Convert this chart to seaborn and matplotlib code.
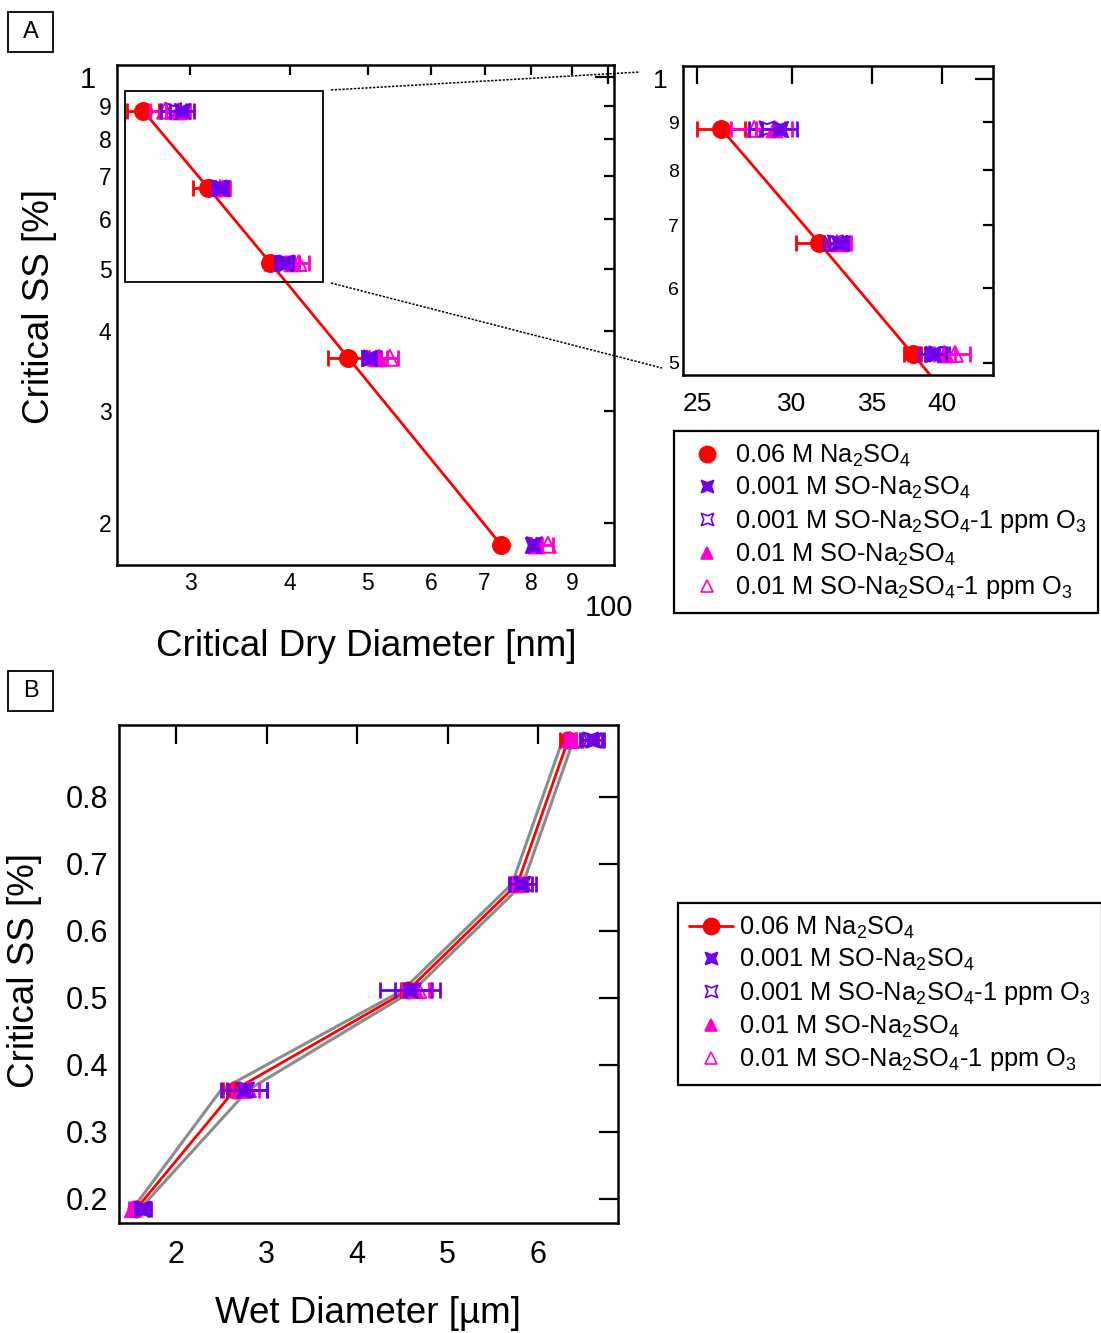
import numpy as np
import pandas as pd
import seaborn as sns
import matplotlib
matplotlib.use('Agg')
import matplotlib.pyplot as plt
from matplotlib.path import Path
from matplotlib.lines import Line2D
from matplotlib.patches import Rectangle
from matplotlib.ticker import FixedLocator, FixedFormatter, NullFormatter

# ---- data ----
# critical supersaturation levels [%] (same for every sample)
ss = [0.885, 0.670, 0.511, 0.363, 0.185]

series = ['na2so4', 'so001', 'so001_o3', 'so01', 'so01_o3']
labels = [r'0.06 M Na$_2$SO$_4$',
          r'0.001 M SO-Na$_2$SO$_4$',
          r'0.001 M SO-Na$_2$SO$_4$-1 ppm O$_3$',
          r'0.01 M SO-Na$_2$SO$_4$',
          r'0.01 M SO-Na$_2$SO$_4$-1 ppm O$_3$']

# panel A: critical dry diameter [nm]
dry_na2so4 = [26.2, 31.6, 37.8, 47.3, 73.4]
dry_na2so4_err = [1.2, 1.4, 0.6, 2.7, 0.5]
dry_so001 = [29.3, 32.8, 39.3, 50.2, 80.5]
dry_so001_err = [1.0, 0.6, 1.0, 1.0, 1.0]
dry_so001_o3 = [28.6, 32.6, 39.6, 50.6, 80.8]
dry_so001_o3_err = [1.0, 0.7, 0.9, 1.2, 1.0]
dry_so01 = [29.0, 32.9, 40.2, 51.5, 81.2]
dry_so01_err = [1.0, 0.7, 0.8, 1.3, 1.2]
dry_so01_o3 = [27.9, 32.7, 41.0, 53.3, 84.0]
dry_so01_o3_err = [1.2, 0.8, 1.2, 1.3, 1.3]

# panel B: wet diameter [um]
wet_na2so4 = [6.33, 5.77, 4.56, 2.65, 1.56]
wet_na2so4_err = [0.09, 0.06, 0.08, 0.13, 0.03]
wet_so001 = [6.60, 5.81, 4.58, 2.75, 1.62]
wet_so001_err = [0.12, 0.12, 0.33, 0.25, 0.07]
wet_so001_o3 = [6.58, 5.83, 4.62, 2.78, 1.64]
wet_so001_o3_err = [0.12, 0.15, 0.20, 0.22, 0.08]
wet_so01 = [6.36, 5.80, 4.64, 2.72, 1.51]
wet_so01_err = [0.06, 0.08, 0.15, 0.10, 0.03]
wet_so01_o3 = [6.35, 5.79, 4.68, 2.80, 1.53]
wet_so01_o3_err = [0.06, 0.08, 0.15, 0.12, 0.03]

# grey envelope around the Na2SO4 curve in panel B
wet_band_lo = [6.27, 5.71, 4.50, 2.50, 1.52]
wet_band_hi = [6.39, 5.83, 4.62, 2.80, 1.60]

# ticks
a_x_minor = [30, 40, 50, 60, 70, 80, 90]
a_x_minor_lab = ['3', '4', '5', '6', '7', '8', '9']
a_y_minor = [0.2, 0.3, 0.4, 0.5, 0.6, 0.7, 0.8, 0.9]
a_y_minor_lab = ['2', '3', '4', '5', '6', '7', '8', '9']
ins_x = [25, 30, 35, 40]
ins_y_minor = [0.5, 0.6, 0.7, 0.8, 0.9]
ins_y_minor_lab = ['5', '6', '7', '8', '9']

df = pd.DataFrame({
    'series': np.repeat(series, len(ss)),
    'ss': ss * len(series),
    'dry': dry_na2so4 + dry_so001 + dry_so001_o3 + dry_so01 + dry_so01_o3,
    'dry_err': dry_na2so4_err + dry_so001_err + dry_so001_o3_err + dry_so01_err + dry_so01_o3_err,
    'wet': wet_na2so4 + wet_so001 + wet_so001_o3 + wet_so01 + wet_so01_o3,
    'wet_err': wet_na2so4_err + wet_so001_err + wet_so001_o3_err + wet_so01_err + wet_so01_o3_err,
})

# ---- style ----
sns.set_theme(style='white')
plt.rcParams['font.family'] = ['Liberation Sans', 'DejaVu Sans']
plt.rcParams['mathtext.fontset'] = 'custom'
plt.rcParams['mathtext.rm'] = 'Liberation Sans'
plt.rcParams['mathtext.it'] = 'Liberation Sans'
plt.rcParams['mathtext.default'] = 'rm'
plt.rcParams['text.color'] = 'black'
plt.rcParams['axes.labelcolor'] = 'black'
plt.rcParams['xtick.color'] = 'black'
plt.rcParams['ytick.color'] = 'black'

red = '#FF0000'
purple = '#7000E8'
magenta = '#FF00D0'

# four pointed (concave square) marker
k = 0.62
star4 = Path([(-1, 1), (0, k), (1, 1), (k, 0), (1, -1), (0, -k), (-1, -1), (-k, 0), (-1, 1)],
             [Path.MOVETO] + [Path.LINETO] * 7 + [Path.CLOSEPOLY])

look = {
    'na2so4':   dict(color=red, marker='o', filled=True, s=150),
    'so001':    dict(color=purple, marker=star4, filled=True, s=120),
    'so001_o3': dict(color=purple, marker=star4, filled=False, s=120),
    'so01':     dict(color=magenta, marker='^', filled=True, s=130),
    'so01_o3':  dict(color=magenta, marker='^', filled=False, s=130),
}
draw_order = ['na2so4', 'so01_o3', 'so001_o3', 'so01', 'so001']


def draw_points(ax, xcol, ecol, scale=1.0):
    for i, name in enumerate(draw_order):
        d = df[df['series'] == name]
        st = look[name]
        ax.errorbar(d[xcol], d['ss'], xerr=d[ecol], fmt='none', ecolor=st['color'],
                    elinewidth=2.0, capsize=6, capthick=2.0, zorder=3 + i)
        fc = st['color'] if st['filled'] else 'none'
        sns.scatterplot(x=d[xcol].values, y=d['ss'].values, ax=ax, marker=st['marker'],
                        s=st['s'] * scale, color=st['color'], facecolor=fc,
                        edgecolor=st['color'], linewidth=1.4, zorder=3 + i, legend=False)


def frame(ax, lw=1.8):
    for sp in ax.spines.values():
        sp.set_linewidth(lw)
        sp.set_color('black')
        sp.set_visible(True)


fig = plt.figure(figsize=(11.01, 13.33), dpi=100)
W, H = 1101, 1333


def box(l, t, r, b):
    return [l / W, 1 - b / H, (r - l) / W, (b - t) / H]


# ---- panel A ----
axA = fig.add_axes(box(117, 65, 614, 565))
axA.set_xscale('log')
axA.set_yscale('log')
red_df = df[df['series'] == 'na2so4']
sns.lineplot(x=red_df['dry'].values, y=red_df['ss'].values, sort=False, color=red,
             linewidth=2.0, ax=axA, zorder=2)
draw_points(axA, 'dry', 'dry_err')
axA.set_xlim(24.3, 101.6)
axA.set_ylim(0.172, 1.044)
axA.xaxis.set_major_locator(FixedLocator([100]))
axA.xaxis.set_major_formatter(FixedFormatter(['100']))
axA.xaxis.set_minor_locator(FixedLocator(a_x_minor))
axA.xaxis.set_minor_formatter(FixedFormatter(a_x_minor_lab))
axA.yaxis.set_major_locator(FixedLocator([1]))
axA.yaxis.set_major_formatter(FixedFormatter(['1']))
axA.yaxis.set_minor_locator(FixedLocator(a_y_minor))
axA.yaxis.set_minor_formatter(FixedFormatter(a_y_minor_lab))
axA.tick_params(which='both', direction='in', top=True, right=True, width=1.6, colors='black')
axA.tick_params(which='major', length=14, labelsize=21)
axA.tick_params(which='minor', length=7, labelsize=16.5)
axA.tick_params(axis='x', which='major', pad=21)
axA.tick_params(axis='x', which='minor', pad=5)
axA.tick_params(axis='y', which='major', pad=15)
axA.tick_params(axis='y', which='minor', pad=4)
frame(axA)
axA.set_xlabel('Critical Dry Diameter [nm]', fontsize=26.5)
axA.set_ylabel('Critical SS [%]', fontsize=26.5)
axA.xaxis.set_label_coords(0.501, -0.128)
axA.yaxis.set_label_coords(-0.121, 0.516)
axA.add_patch(Rectangle((24.9, 0.477), 44.0 - 24.9, 0.951 - 0.477, fill=False,
                        edgecolor='black', linewidth=1.3, zorder=10))

# ---- inset (zoom) ----
axI = fig.add_axes(box(683, 66, 993, 375))
axI.set_xscale('log')
axI.set_yscale('log')
sns.lineplot(x=red_df['dry'].values, y=red_df['ss'].values, sort=False, color=red,
             linewidth=2.0, ax=axI, zorder=2)
draw_points(axI, 'dry', 'dry_err')
axI.set_xlim(24.34, 44.1)
axI.set_ylim(0.4854, 1.032)
axI.xaxis.set_major_locator(FixedLocator(ins_x))
axI.xaxis.set_major_formatter(FixedFormatter([str(v) for v in ins_x]))
axI.xaxis.set_minor_locator(FixedLocator([]))
axI.xaxis.set_minor_formatter(NullFormatter())
axI.yaxis.set_major_locator(FixedLocator([1]))
axI.yaxis.set_major_formatter(FixedFormatter(['1']))
axI.yaxis.set_minor_locator(FixedLocator(ins_y_minor))
axI.yaxis.set_minor_formatter(FixedFormatter(ins_y_minor_lab))
axI.tick_params(which='both', direction='in', top=True, right=True, width=1.6, colors='black')
axI.tick_params(which='major', length=13, labelsize=19)
axI.tick_params(which='minor', length=7, labelsize=14)
axI.tick_params(axis='x', which='major', pad=12)
axI.tick_params(axis='y', which='major', pad=11)
axI.tick_params(axis='y', which='minor', pad=3)
frame(axI)
axI.set_xlabel('')
axI.set_ylabel('')

# dotted lines joining the zoom box to the inset
for (x0, y0, x1, y1) in [(331, 90, 640, 72), (331, 283, 662, 368)]:
    fig.add_artist(Line2D([x0 / W, x1 / W], [1 - y0 / H, 1 - y1 / H], transform=fig.transFigure,
                          color='black', linewidth=1.1, linestyle=(0, (1.5, 1))))

# ---- panel B ----
axB = fig.add_axes(box(119, 725, 618, 1223))
sns.lineplot(x=wet_band_lo, y=ss, sort=False, color='#8C8C8C', linewidth=2.2, ax=axB, zorder=1)
sns.lineplot(x=wet_band_hi, y=ss, sort=False, color='#8C8C8C', linewidth=2.2, ax=axB, zorder=1)
red_b = df[df['series'] == 'na2so4']
sns.lineplot(x=red_b['wet'].values, y=red_b['ss'].values, sort=False, color=red,
             linewidth=2.0, ax=axB, zorder=2)
draw_points(axB, 'wet', 'wet_err', scale=0.9)
axB.set_xlim(1.37, 6.88)
axB.set_ylim(0.164, 0.907)
axB.set_xticks([2, 3, 4, 5, 6])
axB.set_yticks([0.2, 0.3, 0.4, 0.5, 0.6, 0.7, 0.8])
axB.set_yticklabels(['0.2', '0.3', '0.4', '0.5', '0.6', '0.7', '0.8'])
axB.tick_params(which='both', direction='in', top=True, right=True, width=1.6, length=14,
                labelsize=22, colors='black')
axB.tick_params(axis='x', pad=12)
axB.tick_params(axis='y', pad=8)
frame(axB)
axB.set_xlabel('Wet Diameter [µm]', fontsize=26.5)
axB.set_ylabel('Critical SS [%]', fontsize=26.5)
axB.xaxis.set_label_coords(0.499, -0.146)
axB.yaxis.set_label_coords(-0.154, 0.508)


# ---- legends ----
def handles(with_line):
    hs = []
    for i, name in enumerate(series):
        st = look[name]
        size = np.sqrt(st['s'])
        hs.append(Line2D([], [], color=st['color'], marker=st['marker'],
                         markersize=size * (0.95 if name == 'na2so4' else 0.8),
                         markerfacecolor=st['color'] if st['filled'] else 'none',
                         markeredgecolor=st['color'], markeredgewidth=1.2,
                         linestyle='-' if (with_line and i == 0) else 'none', linewidth=2.0))
    return hs


leg_kw = dict(loc='upper left', frameon=True, fancybox=False, edgecolor='black', fontsize=18.3,
              handlelength=1.7, handletextpad=0.25, borderpad=0.45, labelspacing=0.26,
              borderaxespad=0, framealpha=1)
legA = fig.legend(handles(False), labels, bbox_to_anchor=(674 / W, 1 - 431 / H), **leg_kw)
legA.get_frame().set_linewidth(1.6)
legB = fig.legend(handles(True), labels, bbox_to_anchor=(678 / W, 1 - 903 / H), **leg_kw)
legB.get_frame().set_linewidth(1.6)

# ---- panel letters ----
for letter, top in [('A', 12), ('B', 671)]:
    fig.add_artist(Rectangle((8 / W, 1 - (top + 40) / H), 45 / W, 40 / H, transform=fig.transFigure,
                             fill=False, edgecolor='black', linewidth=1.3))
    fig.text(30.5 / W, 1 - (top + 20) / H, letter, ha='center', va='center', fontsize=17)

fig.savefig('out.png', dpi=100)
